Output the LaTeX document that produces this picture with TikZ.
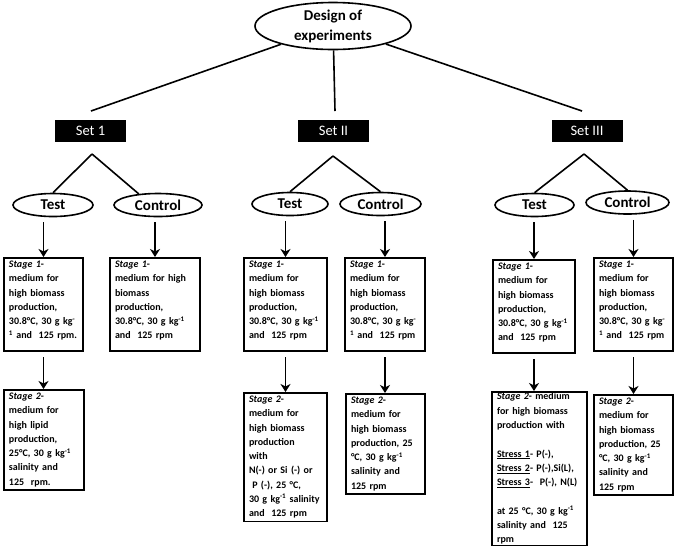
\documentclass[tikz,border=0pt]{standalone}
\usepackage{fontspec}
\setmainfont{Carlito}
\usetikzlibrary{shapes.geometric,arrows.meta}
\newcommand{\stagebox}[4][]{\node[draw,line width=1.8pt,anchor=north,align=left,inner xsep=5pt,inner ysep=3pt,font=\fontsize{10}{14.3}\selectfont\bfseries,#1] at (#2) (#3) {#4}}
\newcommand{\armell}[4][]{\node[ellipse,draw,line width=1.6pt,inner sep=0pt,minimum height=23pt,font=\fontsize{15}{20}\selectfont\bfseries,#1] at (#2) (#3) {#4}}
\newcommand{\kgsup}[1]{kg\textsuperscript{#1}}
\newcommand{\padend}{\\[-5pt]\mbox{}}

\begin{document}
\begin{tikzpicture}[x=1pt,y=-1pt,line width=1.6pt,
		setbox/.style={fill=black,text=white,minimum width=71pt,minimum height=22pt,inner sep=0pt,font=\fontsize{14.5}{16}\selectfont},
		arr/.style={-{Stealth[length=8pt,width=10pt,inset=2.5pt]},shorten <=5pt}]
				\useasboundingbox (0,0) rectangle (677,550);

				% top of the tree
				\node[ellipse,draw,inner sep=0pt,minimum width=156pt,minimum height=47pt,align=center,font=\fontsize{15}{20}\selectfont\bfseries] at (333,26) (design) {Design of\\experiments};
				\node[setbox] at (90.5,131) (set1) {Set 1};
				\node[setbox] at (333.5,131) (set2) {Set II};
				\node[setbox] at (587,131) (set3) {Set III};
				\coordinate (top1) at (91,111);
				\coordinate (top2) at (335,111);
				\coordinate (top3) at (582,111);
				\draw (design) -- (top1);
				\draw (design) -- (top2);
				\draw (design) -- (top3);

				% test and control
				\coordinate (peak1) at (92,154);
				\coordinate (peak2) at (333,156);
				\coordinate (peak3) at (584,154);
				\armell[minimum width=80pt]{53,205}{test1}{Test};
				\armell[minimum width=88pt]{158,205}{ctrl1}{Control};
				\armell[minimum width=76pt]{290,204}{test2}{Test};
				\armell[minimum width=81pt]{380.5,204}{ctrl2}{Control};
				\armell[minimum width=79pt]{534.5,205}{test3}{Test};
				\armell[minimum width=83pt]{627.5,202.5}{ctrl3}{Control};
				\draw (peak1) -- (test1.north);
				\draw (peak1) -- (ctrl1.150);
				\draw (peak2) -- (test2.north);
				\draw (peak2) -- (ctrl2.north);
				\draw (peak3) -- (test3.north);
				\draw (peak3) -- (ctrl3.north);

				% stage 1
				\stagebox[text width=69pt]{43.5,257}{one1}{\textit{Stage 1}-\\medium for\\high biomass\\production,\\30.8°C, 30~g~\kgsup{-}\\\textsuperscript{1} and~ 125~rpm.\padend};
				\stagebox[text width=80pt]{155,257}{oneC1}{\textit{Stage 1}-\\medium for high\\biomass\\production,\\30.8°C, 30~g~\kgsup{-1}\\and~ 125 rpm\padend};
				\stagebox[text width=73pt]{285.5,257}{one2}{\textit{Stage 1}-\\medium for\\high biomass\\production,\\30.8°C, 30~g~\kgsup{-1}\\and~ 125 rpm\padend};
				\stagebox[text width=70pt]{385,257}{oneC2}{\textit{Stage 1}-\\medium for\\high biomass\\production,\\30.8°C, 30~g~\kgsup{-}\\\textsuperscript{1} and~ 125~rpm\padend};
				\stagebox[text width=72pt]{534,259}{one3}{\textit{Stage 1}-\\medium for\\high biomass\\production,\\30.8°C, 30~g~\kgsup{-1}\\and~ 125 rpm\padend};
				\stagebox[text width=69pt]{633.5,257}{oneC3}{\textit{Stage 1}-\\medium for\\high biomass\\production,\\30.8°C, 30~g~\kgsup{-}\\\textsuperscript{1} and~ 125~rpm\padend};

				% stage 2
				\stagebox[text width=70pt]{44,389}{two1}{\textit{Stage 2}-\\medium for\\high lipid\\production,\\25°C, 30~g~\kgsup{-1}\\salinity and\\125~ rpm.};
				\stagebox[text width=73pt]{285.5,392}{two2}{\textit{Stage 2}-\\medium for\\high biomass\\production\\with\\N(-) or Si (-) or\\~P (-), 25 °C,\\30~g~\kgsup{-1}~salinity\\and~ 125 rpm};
				\stagebox[text width=69pt]{385.5,393}{twoC2}{\textit{Stage 2}-\\medium for\\high biomass\\production, 25\\°C, 30~g~\kgsup{-1}\\salinity and\\125 rpm};
				\stagebox[text width=85pt,inner ysep=1pt]{539.5,391}{two3}{\textit{Stage 2}- medium\\for high biomass\\production with\\[14.3pt]\underline{Stress 1}- P(-),\\\underline{Stress 2}-~P(-),Si(L),\\\underline{Stress 3}-~ P(-), N(L)\\[14.3pt]at 25 °C, 30~g~\kgsup{-1}\\salinity and~ 125\\rpm};
				\stagebox[text width=69pt]{633.5,394}{twoC3}{\textit{Stage 2}-\\medium for\\high biomass\\production, 25\\°C, 30~g~\kgsup{-1}\\salinity and\\125 rpm};

				\draw[arr] (one1.north |- test1.south) -- (one1.north);
				\draw[arr] (oneC1.north |- ctrl1.south) -- (oneC1.north);
				\draw[arr] (one2.north |- test2.south) -- (one2.north);
				\draw[arr] (oneC2.north |- ctrl2.south) -- (oneC2.north);
				\draw[arr] (one3.north |- test3.south) -- (one3.north);
				\draw[arr] (oneC3.north |- ctrl3.south) -- (oneC3.north);

				\draw[arr] (one1.south) -- (one1.south |- two1.north);
				\draw[arr] (one2.south) -- (one2.south |- two2.north);
				\draw[arr] (oneC2.south) -- (oneC2.south |- twoC2.north);
				\draw[arr] (one3.south) -- (one3.south |- two3.north);
				\draw[arr] (oneC3.south) -- (oneC3.south |- twoC3.north);
\end{tikzpicture}
\end{document}
